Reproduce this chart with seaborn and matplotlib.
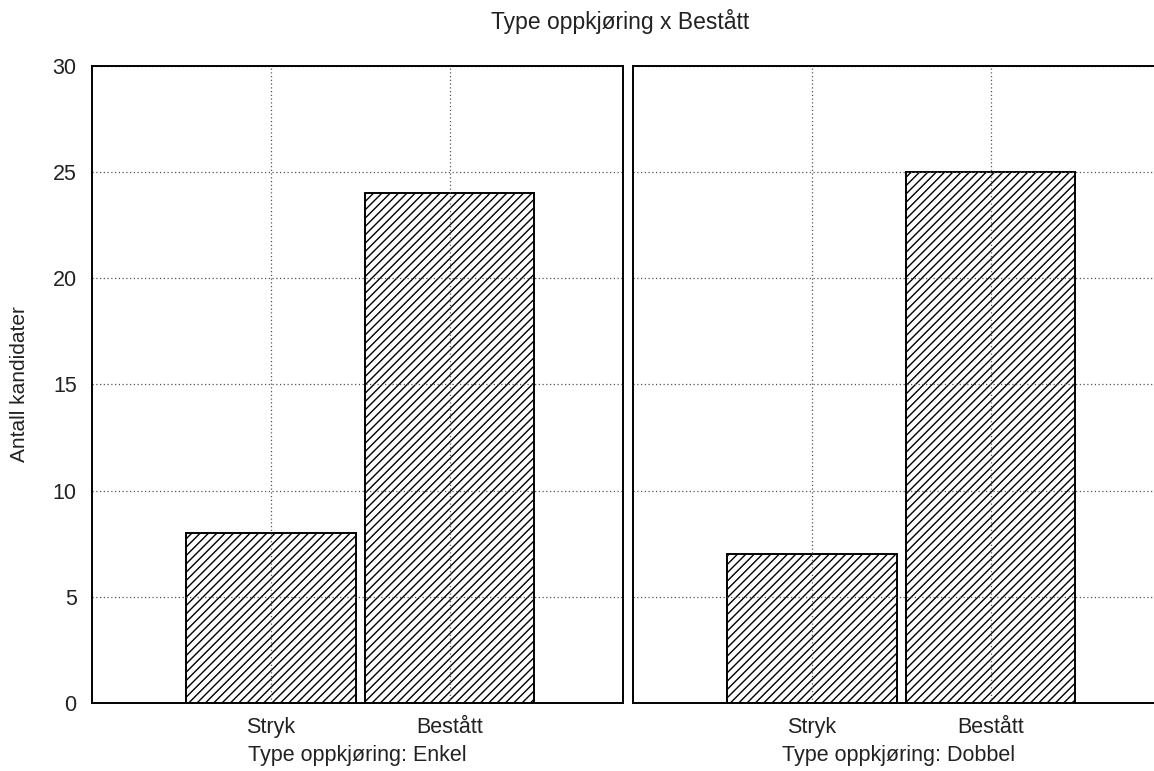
import matplotlib
matplotlib.use("Agg")
import matplotlib.pyplot as plt
import seaborn as sns
import pandas as pd

categories = ["Stryk", "Bestått"]
enkel_values = [8, 24]
dobbel_values = [7, 25]
panel_labels = ["Type oppkjøring: Enkel", "Type oppkjøring: Dobbel"]
title = "Type oppkjøring x Bestått"
ylabel = "Antall kandidater"
yticks = [0, 5, 10, 15, 20, 25, 30]

sns.set_style("white")
plt.rcParams["font.family"] = ["Liberation Sans", "DejaVu Sans"]
plt.rcParams["hatch.linewidth"] = 1.0

fig = plt.figure(figsize=(11.54, 7.71), dpi=100)
ax1 = fig.add_axes([0.0797, 0.0882, 0.4601, 0.8262])
ax2 = fig.add_axes([0.5485, 0.0882, 0.4601, 0.8262])

for ax, vals, lab in [(ax1, enkel_values, panel_labels[0]), (ax2, dobbel_values, panel_labels[1])]:
    df = pd.DataFrame({"kat": categories, "n": vals})
    sns.barplot(data=df, x="kat", y="n", ax=ax, color="white", edgecolor="black",
                linewidth=1.4, hatch="////", width=0.95, zorder=2)
    ax.set_xlim(-1.0, 1.97)
    ax.set_ylim(0, 30)
    ax.set_yticks(yticks)
    ax.set_axisbelow(False)
    ax.grid(True, axis="both", linestyle=(0, (1, 2)), color="#555555", linewidth=0.9, zorder=3)
    for s in ax.spines.values():
        s.set_color("black")
        s.set_linewidth(1.4)
        s.set_zorder(4)
    ax.tick_params(axis="x", length=0, pad=10, labelsize=15.5, labelcolor="#222222")
    ax.tick_params(axis="y", length=0, pad=11, labelsize=15.5, labelcolor="#222222")
    ax.set_xlabel(lab, fontsize=15.5, labelpad=5, color="#222222")
    ax.set_ylabel("")

ax1.set_ylabel(ylabel, fontsize=15, labelpad=17, color="#222222")
ax2.set_yticklabels([])
fig.text(0.537, 0.972, title, ha="center", va="center", fontsize=16.5, color="#222222")

fig.savefig("out.png", dpi=100)
